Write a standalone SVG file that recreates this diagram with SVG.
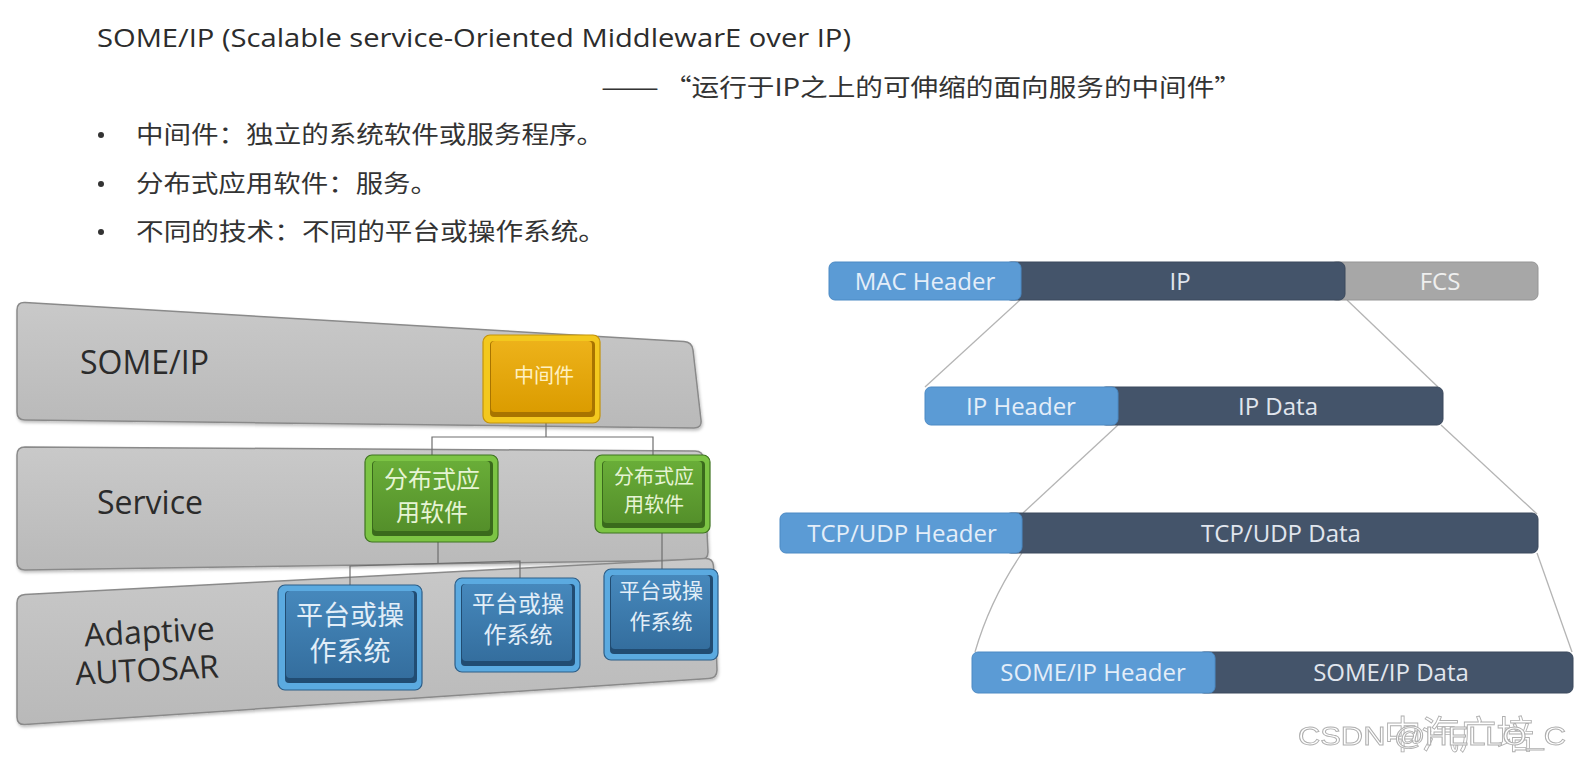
<svg xmlns="http://www.w3.org/2000/svg" width="1577" height="762" viewBox="0 0 1577 762">
<defs>
<linearGradient id="barG" x1="0" y1="0" x2="0" y2="1"><stop offset="0" stop-color="#C9C9C9"/><stop offset="1" stop-color="#B9B9B9"/></linearGradient>
<linearGradient id="orFace" x1="0" y1="0" x2="0" y2="1"><stop offset="0" stop-color="#EDB21A"/><stop offset="1" stop-color="#DB9C00"/></linearGradient>
<linearGradient id="grFace" x1="0" y1="0" x2="0" y2="1"><stop offset="0" stop-color="#69AD38"/><stop offset="1" stop-color="#548F2A"/></linearGradient>
<linearGradient id="blFace" x1="0" y1="0" x2="0" y2="1"><stop offset="0" stop-color="#4688BC"/><stop offset="1" stop-color="#346E9E"/></linearGradient>
<filter id="sh" x="-5%" y="-10%" width="110%" height="130%"><feDropShadow dx="1" dy="2" stdDeviation="1.5" flood-color="#000" flood-opacity="0.25"/></filter>
</defs>
<style>
.t{font-family:"Open Sans","Noto Sans CJK SC",sans-serif;fill:#2c2c2c}
.cjk{font-family:"Noto Sans CJK SC","Open Sans",sans-serif;fill:#333333}
.bar{fill:url(#barG);stroke:#8A8A8A;stroke-width:1.5}
.lbl{font-family:"Open Sans",sans-serif;font-size:32px;fill:#2b2b2b}
.conn{stroke:#6E6E6E;stroke-width:1.2;fill:none}
.pl{stroke:#B4B4B4;stroke-width:1.3;fill:none}
.hdr{fill:#5B9BD5;stroke:#4C8AC4;stroke-width:1}
.dat{fill:#44546A;stroke:#3A485C;stroke-width:1}
.fcs{fill:#A7A7A7;stroke:#959595;stroke-width:1}
.pt{font-family:"Open Sans",sans-serif;font-size:24px;text-anchor:middle}
.ph{fill:#E4EEF9}
.pd{fill:#E1E6EE}
.bx{font-family:"Noto Sans CJK SC",sans-serif;text-anchor:middle}
.wm{font-family:"Liberation Sans","Noto Sans CJK SC",sans-serif;fill:#FFFFFF;stroke:#9A9A9A;stroke-width:0.9}
</style>

<g id="header-text">
<text class="t" x="97" y="47" font-size="25" textLength="754" lengthAdjust="spacingAndGlyphs">SOME/IP (Scalable service-Oriented MiddlewarE over IP)</text>
<text class="cjk" x="601" y="96" font-size="24" textLength="58" lengthAdjust="spacingAndGlyphs">——</text>
<text class="cjk" x="664" y="96" font-size="24" textLength="578" lengthAdjust="spacingAndGlyphs">“运行于IP之上的可伸缩的面向服务的中间件”</text>
</g>

<g id="bullets">
<circle cx="101" cy="135" r="3" fill="#333"/>
<circle cx="101" cy="184" r="3" fill="#333"/>
<circle cx="101" cy="232" r="3" fill="#333"/>
<text class="cjk" x="136" y="143" font-size="24" textLength="468" lengthAdjust="spacingAndGlyphs">中间件：独立的系统软件或服务程序。</text>
<text class="cjk" x="136" y="192" font-size="24" textLength="302" lengthAdjust="spacingAndGlyphs">分布式应用软件：服务。</text>
<text class="cjk" x="136" y="240" font-size="24" textLength="470" lengthAdjust="spacingAndGlyphs">不同的技术：不同的平台或操作系统。</text>
</g>

<g id="layer-someip">
<path class="bar" filter="url(#sh)" d="M25,302.5 L684,341.5 Q692,342 693,350 L701,420 Q702,428 694,428 L25,420 Q17,420 17,412 L17,310 Q17,302 25,302.5 Z"/>
<text class="lbl" x="80" y="374" font-size="32">SOME/IP</text>
</g>
<g id="layer-service">
<path class="bar" filter="url(#sh)" d="M25,447 L695,451 Q703,451 703.5,459 L708,552 Q708,560 700,560 L25,570 Q17,570 17,562 L17,455 Q17,447 25,447 Z"/>
<text class="lbl" x="97" y="514" font-size="32">Service</text>
</g>
<g id="layer-autosar">
<path class="bar" filter="url(#sh)" d="M25,594.5 L705,558.5 Q713,558 713.5,566 L717,670 Q717,678 709,678.5 L25,724.5 Q17,725 17,717 L17,603 Q17,595 25,594.5 Z"/>
<text class="lbl" x="84" y="643" transform="rotate(-3 150 630)">Adaptive</text>
<text class="lbl" x="75" y="681" transform="rotate(-3 150 668)">AUTOSAR</text>
</g>

<g id="connectors">
<polyline class="conn" points="546,423 546,437"/>
<polyline class="conn" points="432,455 432,437 653,437 653,455"/>
<polyline class="conn" points="438,542 438,564"/>
<polyline class="conn" points="350,588 350,566 520,561 520,578"/>
<polyline class="conn" points="662,533 662,570"/>
<line class="pl" x1="1020" y1="300" x2="925" y2="387"/>
<line class="pl" x1="1347" y1="300" x2="1438" y2="387"/>
<line class="pl" x1="1118" y1="425" x2="1023" y2="513"/>
<line class="pl" x1="1441" y1="425" x2="1537" y2="514"/>
<path class="pl" d="M1022,553 Q990,600 975,652"/>
<line class="pl" x1="1537" y1="553" x2="1572" y2="652"/>
</g>

<g id="node-middleware">
<rect x="483" y="335" width="117" height="88" rx="7" fill="#F3C81E" stroke="#C4930A" stroke-width="1.2"/>
<rect x="490" y="341" width="105" height="76" rx="4" fill="#A87400"/>
<rect x="491" y="341" width="101" height="71" rx="4" fill="url(#orFace)"/>
<text class="bx" x="544" y="383" font-size="20" fill="#FFF1C2">中间件</text>
</g>

<g id="node-service-1">
<rect x="365" y="455" width="133" height="87" rx="7" fill="#7CC444" stroke="#3F7420" stroke-width="1.2"/>
<rect x="372" y="461" width="121" height="75" rx="4" fill="#3A6A1C"/>
<rect x="373" y="461" width="117" height="70" rx="4" fill="url(#grFace)"/>
<text class="bx" x="432" y="488" font-size="24" fill="#E6F4D4">分布式应</text>
<text class="bx" x="432" y="521" font-size="24" fill="#E6F4D4">用软件</text>
</g>

<g id="node-service-2">
<rect x="595" y="455" width="115" height="78" rx="7" fill="#7CC444" stroke="#3F7420" stroke-width="1.2"/>
<rect x="602" y="461" width="103" height="67" rx="4" fill="#3A6A1C"/>
<rect x="603" y="461" width="99" height="62" rx="4" fill="url(#grFace)"/>
<text class="bx" x="654" y="484" font-size="20" fill="#E6F4D4">分布式应</text>
<text class="bx" x="654" y="512" font-size="20" fill="#E6F4D4">用软件</text>
</g>

<g id="node-os-1">
<rect x="278" y="585" width="144" height="105" rx="7" fill="#5BAAE0" stroke="#2D5E88" stroke-width="1.2"/>
<rect x="285" y="591" width="132" height="92" rx="4" fill="#214C72"/>
<rect x="286" y="591" width="128" height="87" rx="4" fill="url(#blFace)"/>
<text class="bx" x="350" y="625" font-size="27" fill="#E2EEF8">平台或操</text>
<text class="bx" x="350" y="661" font-size="27" fill="#E2EEF8">作系统</text>
</g>

<g id="node-os-2">
<rect x="455" y="578" width="125" height="94" rx="7" fill="#5BAAE0" stroke="#2D5E88" stroke-width="1.2"/>
<rect x="461" y="584" width="114" height="82" rx="4" fill="#214C72"/>
<rect x="462" y="584" width="110" height="77" rx="4" fill="url(#blFace)"/>
<text class="bx" x="518" y="612" font-size="23" fill="#E2EEF8">平台或操</text>
<text class="bx" x="518" y="643" font-size="23" fill="#E2EEF8">作系统</text>
</g>

<g id="node-os-3">
<rect x="604" y="569" width="114" height="91" rx="7" fill="#5BAAE0" stroke="#2D5E88" stroke-width="1.2"/>
<rect x="610" y="575" width="103" height="79" rx="4" fill="#214C72"/>
<rect x="611" y="575" width="99" height="74" rx="4" fill="url(#blFace)"/>
<text class="bx" x="661" y="598" font-size="21" fill="#E2EEF8">平台或操</text>
<text class="bx" x="661" y="629" font-size="21" fill="#E2EEF8">作系统</text>
</g>

<g id="row-ethernet">
<rect class="fcs" x="1330" y="262" width="208" height="38" rx="6"/>
<rect class="dat" x="1005" y="262" width="340" height="38" rx="6"/>
<rect class="hdr" x="829" y="262" width="192" height="38" rx="6"/>
<text class="pt ph" x="925" y="290">MAC Header</text>
<text class="pt pd" x="1180" y="290">IP</text>
<text class="pt" x="1440" y="290" fill="#EFEFEF">FCS</text>
</g>

<g id="row-ip">
<rect class="dat" x="1100" y="387" width="343" height="38" rx="6"/>
<rect class="hdr" x="925" y="387" width="193" height="38" rx="6"/>
<text class="pt ph" x="1021" y="415">IP Header</text>
<text class="pt pd" x="1278" y="415">IP Data</text>
</g>

<g id="row-tcp">
<rect class="dat" x="1005" y="513" width="533" height="40" rx="6"/>
<rect class="hdr" x="780" y="513" width="242" height="40" rx="6"/>
<text class="pt ph" x="902" y="542">TCP/UDP Header</text>
<text class="pt pd" x="1281" y="542">TCP/UDP Data</text>
</g>

<g id="row-someip">
<rect class="dat" x="1198" y="652" width="375" height="41" rx="6"/>
<rect class="hdr" x="972" y="652" width="243" height="41" rx="6"/>
<text class="pt ph" x="1093" y="681">SOME/IP Header</text>
<text class="pt pd" x="1391" y="681">SOME/IP Data</text>
</g>

<g id="watermark" opacity="0.8">
<text class="wm" x="1384" y="748" font-size="38" textLength="150" lengthAdjust="spacingAndGlyphs">中汽广培</text>
<text class="wm" x="1298" y="745" font-size="26" textLength="268" lengthAdjust="spacingAndGlyphs">CSDN @HELLO_C</text>
</g>
</svg>
